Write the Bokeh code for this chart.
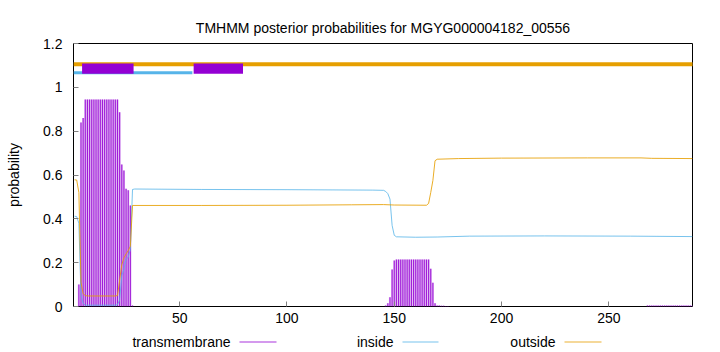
from bokeh.plotting import figure
from bokeh.layouts import column
from bokeh.models import Range1d, FixedTicker, CustomJSTickFormatter
from bokeh.embed import file_html
from bokeh.resources import INLINE
from bokeh.core.properties import value

title_text = "TMHMM posterior probabilities for MGYG000004182_00556"
seq_len = 289

# predicted topology segments (residue start, end)
outside_seg_start = [1]
outside_seg_end = [289]
inside_seg_start = [1]
inside_seg_end = [56]
tm_seg_start = [5, 57]
tm_seg_end = [28, 79]

# transmembrane posterior probability (impulses)
tm_pos_a = list(range(3, 29))
tm_prob_a = [0.10, 0.84, 0.86, 0.945, 0.945, 0.945, 0.945, 0.945, 0.945, 0.945,
             0.945, 0.945, 0.945, 0.945, 0.945, 0.945, 0.945, 0.945, 0.945, 0.886,
             0.648, 0.62, 0.537, 0.53, 0.461, 0.005]
tm_pos_b = list(range(146, 176))
tm_prob_b = [0.005, 0.015, 0.042, 0.169, 0.21, 0.215, 0.215, 0.215, 0.215, 0.215,
             0.215, 0.215, 0.215, 0.215, 0.215, 0.215, 0.215, 0.215, 0.215, 0.215,
             0.215, 0.172, 0.108, 0.015, 0.004, 0.004, 0.003, 0.003, 0.002, 0.002]
tm_pos_c = list(range(268, 290))
tm_prob_c = [0.004, 0.004, 0.005, 0.005, 0.005, 0.005, 0.005, 0.005, 0.005, 0.005, 0.005,
             0.005, 0.005, 0.005, 0.005, 0.005, 0.005, 0.005, 0.005, 0.005, 0.005, 0.005]

# inside posterior probability
inside_pos = [1, 2, 3, 4, 5, 6, 20, 21, 22, 23, 24, 25, 26, 27, 28, 29, 60, 100, 140, 145,
              146, 147, 148, 149, 150, 151, 160, 170, 185, 220, 260, 289]
inside_prob = [0.412, 0.41, 0.38, 0.05, 0.015, 0.006, 0.006, 0.008, 0.03, 0.14, 0.17, 0.215,
               0.225, 0.26, 0.534, 0.536, 0.534, 0.533, 0.531, 0.53,
               0.525, 0.515, 0.49, 0.37, 0.325, 0.318, 0.316, 0.317, 0.321, 0.322, 0.321, 0.319]

# outside posterior probability
outside_pos = [1, 2, 3, 4, 5, 6, 7, 20, 21, 22, 23, 24, 25, 26, 27, 28, 60, 100, 130, 145,
               150, 165, 166, 167, 168, 169, 170, 180, 200, 240, 265, 270, 289]
outside_prob = [0.578, 0.577, 0.52, 0.11, 0.058, 0.05, 0.048, 0.048, 0.05, 0.12, 0.19, 0.222,
                0.24, 0.255, 0.275, 0.461, 0.461, 0.462, 0.464, 0.465, 0.463, 0.462,
                0.47, 0.52, 0.575, 0.665, 0.672, 0.675, 0.677, 0.678, 0.678, 0.676, 0.675]

y_ticks = [0, 0.2, 0.4, 0.6, 0.8, 1.0, 1.2]
x_ticks = [50, 100, 150, 200, 250]
legend_labels = ["transmembrane", "inside", "outside"]

C_TM = "#9400D3"
C_IN = "#56B4E9"
C_OUT = "#E69F00"
legend_colors = [C_TM, C_IN, C_OUT]
FONT = "Liberation Sans"

p = figure(width=720, height=330, output_backend="svg", toolbar_location=None,
           title=title_text,
           x_range=Range1d(0.5, seq_len), y_range=Range1d(0, 1.2),
           min_border_left=73, min_border_right=28, min_border_top=43, min_border_bottom=24)
p.title.align = "center"
p.title.text_font = FONT
p.title.text_font_size = "14px"
p.title.text_font_style = "normal"
p.title.text_color = "black"
p.title.standoff = 15
p.background_fill_color = "white"
p.border_fill_color = "white"
p.outline_line_color = "black"
p.outline_line_width = 1
p.xgrid.visible = False
p.ygrid.visible = False

for ax in (p.xaxis[0], p.yaxis[0]):
    ax.axis_line_color = None
    ax.major_tick_in = 5
    ax.major_tick_out = 0
    ax.minor_tick_line_color = None
    ax.major_tick_line_color = "#808080"
    ax.major_label_text_font = FONT
    ax.major_label_text_font_size = "14px"
    ax.major_label_text_color = "black"

p.xaxis.ticker = FixedTicker(ticks=x_ticks)
p.xaxis.major_label_standoff = 6
p.yaxis.ticker = FixedTicker(ticks=y_ticks)
p.yaxis.formatter = CustomJSTickFormatter(code="return String(Math.round(tick*10)/10);")
p.yaxis.major_label_standoff = 11
p.yaxis.axis_label = "probability"
p.yaxis.axis_label_text_font = FONT
p.yaxis.axis_label_text_font_size = "14px"
p.yaxis.axis_label_text_font_style = "normal"
p.yaxis.axis_label_text_color = "black"
p.yaxis.axis_label_standoff = 18

# TM impulses
for xs, ys in ((tm_pos_a, tm_prob_a), (tm_pos_b, tm_prob_b), (tm_pos_c, tm_prob_c)):
    p.vbar(x=xs, top=ys, bottom=0, width=1.0, fill_color=C_TM, fill_alpha=0.28, line_color=None)
    p.segment(x0=xs, y0=[0] * len(xs), x1=xs, y1=ys, line_color=C_TM, line_width=1.1,
              line_alpha=0.85)

# posterior lines
p.line(inside_pos, inside_prob, line_color=C_IN, line_width=1, line_alpha=0.8)
p.line(outside_pos, outside_prob, line_color=C_OUT, line_width=1, line_alpha=0.85)

# topology bars
p.segment(x0=[s - 0.5 for s in outside_seg_start], y0=[1.105] * len(outside_seg_start),
          x1=[e + 0.5 for e in outside_seg_end], y1=[1.105] * len(outside_seg_end),
          line_color=C_OUT, line_width=4)
p.segment(x0=[s - 0.5 for s in inside_seg_start], y0=[1.066] * len(inside_seg_start),
          x1=[e - 0.1 for e in inside_seg_end], y1=[1.066] * len(inside_seg_end),
          line_color=C_IN, line_width=3)
p.quad(left=[s - 0.5 for s in tm_seg_start], right=[e + 0.5 for e in tm_seg_end],
       bottom=[1.062] * len(tm_seg_start), top=[1.109] * len(tm_seg_start),
       fill_color=C_TM, line_color=None)

# legend strip (text then line sample); its frame is aligned with the main frame,
# so its x range is expressed in canvas pixels 73..692
lg = figure(width=720, height=22, output_backend="svg", toolbar_location=None,
            x_range=Range1d(73, 692), y_range=Range1d(0, 22),
            x_axis_type=None, y_axis_type=None,
            min_border_left=73, min_border_right=28, min_border_top=0, min_border_bottom=0)
lg.outline_line_color = None
lg.xgrid.visible = False
lg.ygrid.visible = False
lg.background_fill_color = "white"
lg.border_fill_color = "white"
leg_text_x = [230, 393, 555]
leg_line_x0 = [239, 402, 564]
leg_line_x1 = [276, 438, 601]
leg_text_y = 11
leg_line_y = 10.5
for t, c, tx, lx0, lx1 in zip(legend_labels, legend_colors, leg_text_x, leg_line_x0, leg_line_x1):
    lg.text(x=[tx], y=[leg_text_y], text=[t], text_align="right", text_baseline="middle",
            text_font=value(FONT), text_font_size="14px", text_color="black")
    lg.segment(x0=[lx0], y0=[leg_line_y], x1=[lx1], y1=[leg_line_y],
               line_color=c, line_width=1, line_alpha=0.8)

layout = column(p, lg, spacing=0)
open("out.html", "w").write(file_html(layout, INLINE))
